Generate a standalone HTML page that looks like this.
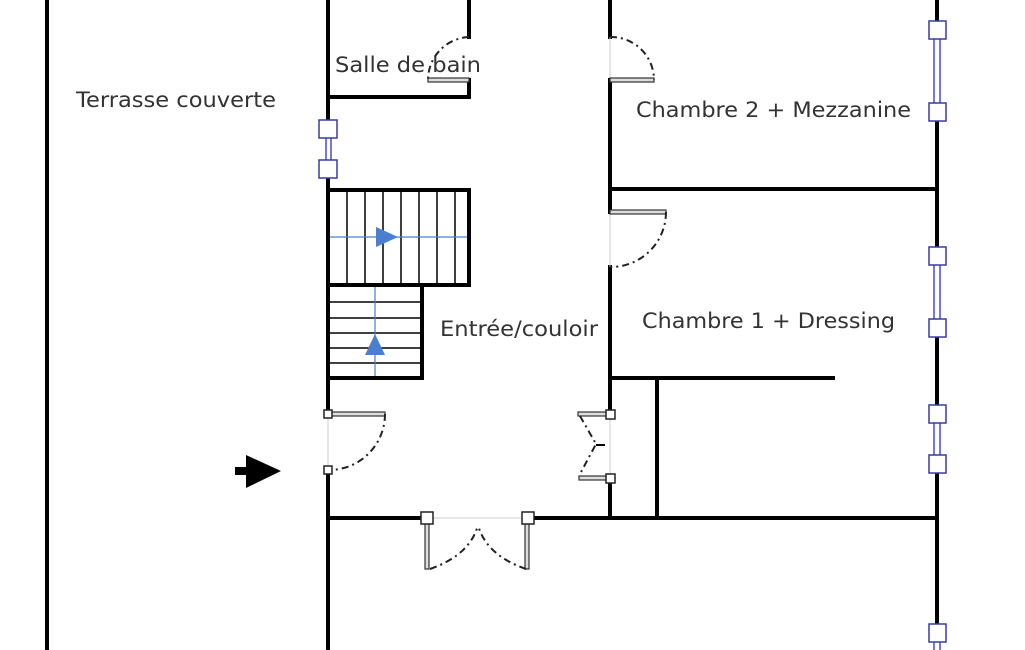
<!DOCTYPE html>
<html><head><meta charset="utf-8"><style>
html,body{margin:0;padding:0;background:#fff;}
svg{display:block}
text{font-family:"DejaVu Sans","Liberation Sans",sans-serif;font-size:21px;fill:#333;}
</style></head><body>
<svg width="1025" height="650" viewBox="0 0 1025 650" xmlns="http://www.w3.org/2000/svg">
<g stroke="#000" stroke-width="4" fill="none" stroke-linecap="square">
<line x1="47" y1="0" x2="47" y2="650"/>
<line x1="328" y1="0" x2="328" y2="128"/>
<line x1="328" y1="170" x2="328" y2="414"/>
<line x1="328" y1="470" x2="328" y2="650"/>
<line x1="469" y1="0" x2="469" y2="37"/>
<line x1="469" y1="80" x2="469" y2="97"/>
<line x1="328" y1="97" x2="469" y2="97"/>
<line x1="610" y1="0" x2="610" y2="37"/>
<line x1="610" y1="80" x2="610" y2="212"/>
<line x1="610" y1="267" x2="610" y2="414"/>
<line x1="610" y1="478" x2="610" y2="518"/>
<line x1="610" y1="189" x2="937" y2="189"/>
<line x1="610" y1="378" x2="833" y2="378"/>
<line x1="657" y1="378" x2="657" y2="518"/>
<line x1="328" y1="518" x2="427" y2="518"/>
<line x1="528" y1="518" x2="937" y2="518"/>
<line x1="937" y1="0" x2="937" y2="30"/>
<line x1="937" y1="112" x2="937" y2="256"/>
<line x1="937" y1="328" x2="937" y2="414"/>
<line x1="937" y1="464" x2="937" y2="633"/>
<rect x="328" y="190" width="141" height="95"/>
<rect x="328" y="285" width="94" height="93"/>
</g>
<g stroke="#000" stroke-width="1.5">
<line x1="347" y1="190" x2="347" y2="285"/><line x1="365" y1="190" x2="365" y2="285"/>
<line x1="383" y1="190" x2="383" y2="285"/><line x1="401" y1="190" x2="401" y2="285"/>
<line x1="419" y1="190" x2="419" y2="285"/><line x1="437" y1="190" x2="437" y2="285"/>
<line x1="455" y1="190" x2="455" y2="285"/>
<line x1="328" y1="302" x2="422" y2="302"/><line x1="328" y1="318" x2="422" y2="318"/>
<line x1="328" y1="333" x2="422" y2="333"/><line x1="328" y1="348" x2="422" y2="348"/>
<line x1="328" y1="363" x2="422" y2="363"/>
</g>
<g stroke="#4a7fd0" stroke-width="1.2">
<line x1="330" y1="237" x2="467" y2="237"/>
<line x1="375" y1="287" x2="375" y2="376"/>
</g>
<polygon points="376,227 398,237 376,247" fill="#4a7fd0"/>
<polygon points="365,355 375,334 385,355" fill="#4a7fd0"/>
<g stroke="#ccc" stroke-width="1">
<line x1="328" y1="414" x2="328" y2="470"/>
<line x1="610" y1="37" x2="610" y2="80"/>
<line x1="610" y1="212" x2="610" y2="267"/>
<line x1="610" y1="414" x2="610" y2="478"/>
<line x1="427" y1="518" x2="528" y2="518"/>
</g>
<g fill="#ddd" stroke="#333" stroke-width="1.2">
<rect x="428" y="78" width="41" height="4"/>
<rect x="610" y="78" width="44" height="4"/>
<rect x="610" y="210" width="56" height="4"/>
<rect x="328" y="412" width="57" height="4"/>
<rect x="578" y="412" width="32" height="4"/>
<rect x="579" y="476" width="31" height="4"/>
<rect x="425" y="518" width="4" height="51"/>
<rect x="525" y="518" width="4" height="51"/>
</g>
<g fill="none" stroke="#222" stroke-width="2" stroke-dasharray="7,4,2,4">
<path d="M469,37 A43,43 0 0 0 428,80"/>
<path d="M610,37 A43,43 0 0 1 654,80"/>
<path d="M666,212 A55,55 0 0 1 610,267"/>
<path d="M385,414 A56,56 0 0 1 328,470"/>
<path d="M580,416 L596,444 L580,474"/>
<path d="M430,569 Q470,555 478,525"/>
<path d="M526,569 Q486,555 478,525"/>
</g>
<line x1="596" y1="445" x2="605" y2="445" stroke="#000" stroke-width="2"/>
<g fill="#fff" stroke="#222" stroke-width="1.5">
<rect x="324" y="410" width="8" height="8"/>
<rect x="324" y="466" width="8" height="8"/>
<rect x="606" y="410" width="9" height="9"/>
<rect x="606" y="474" width="9" height="9"/>
<rect x="421" y="512" width="12" height="12"/>
<rect x="522" y="512" width="12" height="12"/>
</g>
<g stroke="#4a4ac8" stroke-width="1.5" fill="none">
<line x1="326" y1="138" x2="326" y2="160"/><line x1="331" y1="138" x2="331" y2="160"/>
<line x1="934" y1="38" x2="934" y2="104"/><line x1="940" y1="38" x2="940" y2="104"/>
<line x1="934" y1="264" x2="934" y2="320"/><line x1="940" y1="264" x2="940" y2="320"/>
<line x1="934" y1="422" x2="934" y2="456"/><line x1="940" y1="422" x2="940" y2="456"/>
<line x1="934" y1="641" x2="934" y2="650"/><line x1="940" y1="641" x2="940" y2="650"/>
</g>
<g fill="#fff" stroke="#3a3aa0" stroke-width="1.5">
<rect x="319" y="120" width="18" height="18"/><rect x="319" y="160" width="18" height="18"/>
<rect x="929" y="21" width="17" height="18"/><rect x="929" y="103" width="17" height="18"/>
<rect x="929" y="247" width="17" height="18"/><rect x="929" y="319" width="17" height="18"/>
<rect x="929" y="405" width="17" height="18"/><rect x="929" y="455" width="17" height="18"/>
<rect x="929" y="624" width="17" height="18"/>
</g>
<rect x="235" y="467" width="12" height="8" fill="#000"/>
<polygon points="246,455 281,471 246,488" fill="#000"/>
<text x="76" y="107" textLength="200" lengthAdjust="spacingAndGlyphs">Terrasse couverte</text>
<text x="335" y="72" textLength="146" lengthAdjust="spacingAndGlyphs">Salle de bain</text>
<text x="636" y="117" textLength="275" lengthAdjust="spacingAndGlyphs">Chambre 2 + Mezzanine</text>
<text x="642" y="328" textLength="253" lengthAdjust="spacingAndGlyphs">Chambre 1 + Dressing</text>
<text x="440" y="336" textLength="158" lengthAdjust="spacingAndGlyphs">Entrée/couloir</text>
</svg>
</body></html>
